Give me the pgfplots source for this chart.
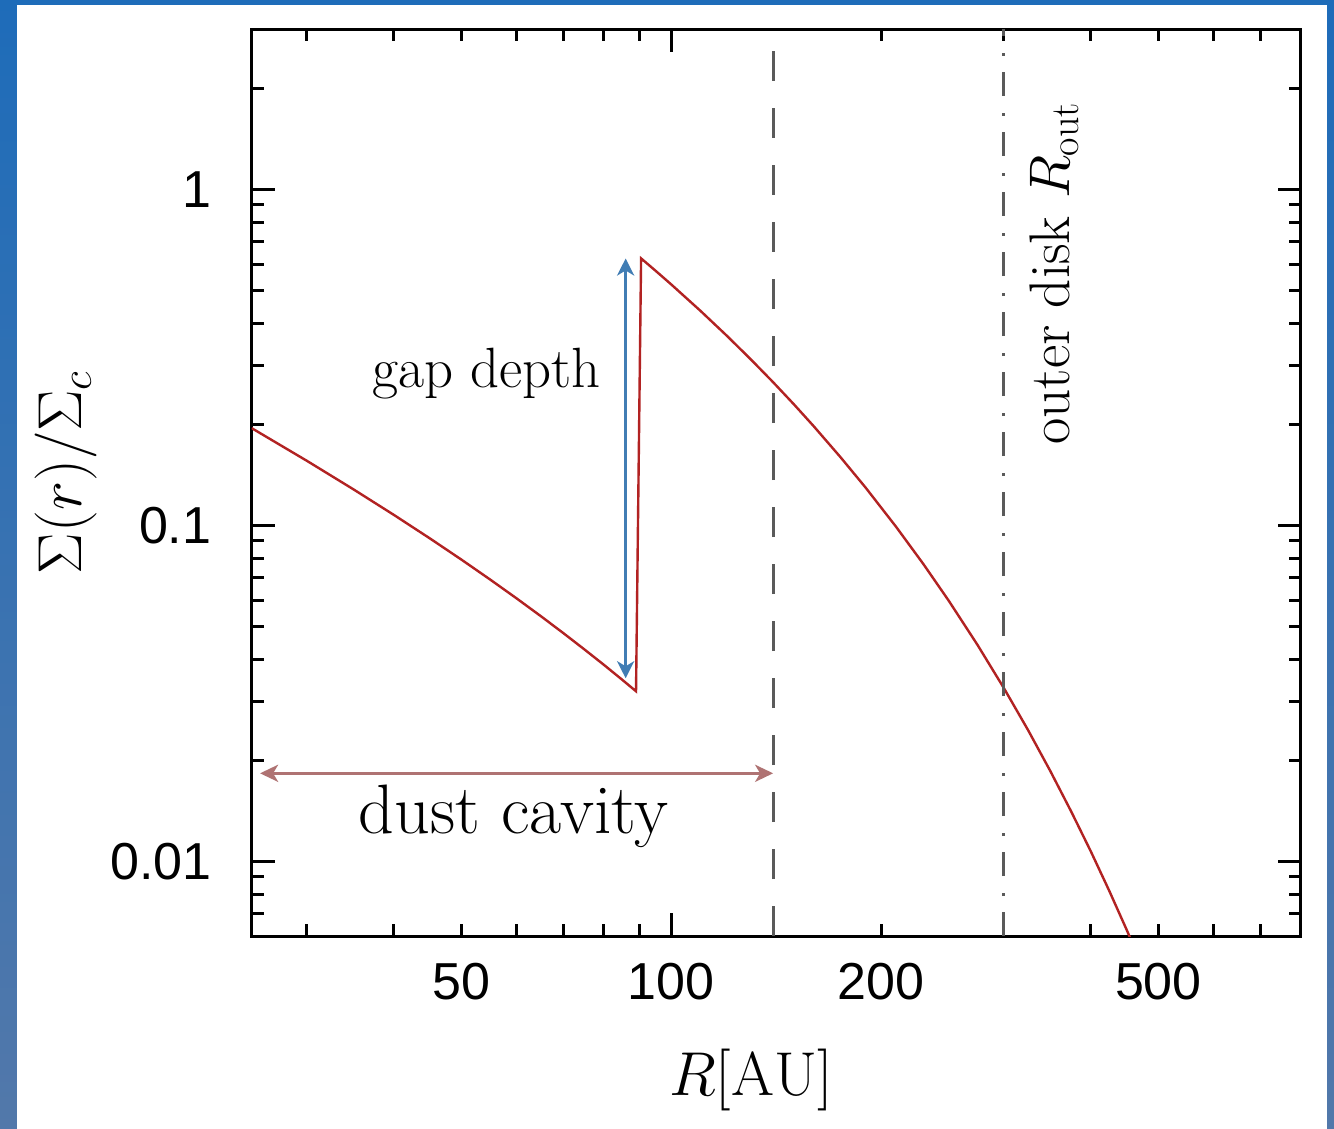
\RequirePackage{fix-cm}
\documentclass[border=0pt]{standalone}
\usepackage{fontspec}
\usepackage{pgfplots}
\pgfplotsset{compat=1.18}
\usetikzlibrary{arrows.meta}
\newfontfamily\ticksans{Liberation Sans}
\definecolor{curvered}{RGB}{178,34,34}
\definecolor{arrowblue}{RGB}{65,125,180}
\definecolor{cavbrown}{RGB}{175,115,115}
\definecolor{frametop}{RGB}{30,108,185}
\definecolor{framebot}{RGB}{82,120,170}
\definecolor{linegray}{RGB}{90,90,90}
\begin{document}
\begin{tikzpicture}
\shade[top color=frametop, bottom color=framebot] (-125.85pt,-96.5pt) rectangle (541.15pt,468pt);
\fill[white] (-117.5pt,-96.5pt) rectangle (537.4pt,465.5pt);
\begin{axis}[
  at={(0pt,0pt)}, anchor=south west,
  scale only axis, width=524.5pt, height=453.4pt,
  xmode=log, ymode=log,
  xmin=25, xmax=800, ymin=0.006, ymax=3,
  axis line style={line width=1.5pt},
  tick style={black, line width=1.5pt},
  tick align=inside,
  major tick length=11.5pt, minor tick length=6pt,
  xtick={100}, xticklabels={100},
  minor xtick={30,40,60,70,80,90,300,400,600,700,800},
  extra x ticks={50,200,500}, extra x tick labels={50,200,500},
  extra x tick style={major tick length=6pt},
  ytick={0.01,0.1,1}, yticklabels={0.01,0.1,1},
  minor ytick={0.006,0.007,0.008,0.009,0.02,0.03,0.04,0.05,0.06,0.07,0.08,0.09,0.2,0.3,0.4,0.5,0.6,0.7,0.8,0.9,2,3},
  tick label style={font=\ticksans\fontsize{26}{26}\selectfont, inner sep=0pt},
  xticklabel style={yshift=-13.5pt},
  yticklabel style={xshift=-20pt},
  clip mode=individual,
]
\addplot[curvered, line width=1.2pt] coordinates {
(25,0.19487) (30,0.15576) (35,0.12807) (40,0.10748) (45,0.09164) (50,0.07911)
(55,0.06898) (60,0.06065) (65,0.05370) (70,0.04783) (75,0.04282) (80,0.03851)
(85,0.03476) (89,0.03211)
(90.5,0.6237) (95,0.5723) (100,0.5215) (110,0.4362) (120,0.3679) (130,0.3124)
(140,0.2669) (150,0.2292) (160,0.1977) (175,0.1595) (190,0.1297) (210,0.0993)
(230,0.07675) (250,0.05977) (275,0.04412) (300,0.03283) (325,0.02461) (350,0.01855)
(375,0.01406) (400,0.01070) (425,0.008178) (450,0.006271) (475,0.004824)
};
\addplot[linegray, line width=1.5pt, dash pattern=on 15pt off 13.5pt] coordinates {(140,0.006) (140,3)};
\addplot[linegray, line width=1.4pt, dash pattern=on 12pt off 8pt on 1.5pt off 8.5pt] coordinates {(300,0.006) (300,3)};
\addplot[arrowblue, line width=1.8pt, {Stealth[length=8.5pt,width=8.5pt,inset=2.5pt]}-{Stealth[length=8.5pt,width=8.5pt,inset=2.5pt]}] coordinates {(86,0.0351) (86,0.6233)};
\addplot[cavbrown, line width=1.5pt, {Stealth[length=9pt,width=8.5pt,inset=2.5pt]}-{Stealth[length=9pt,width=8.5pt,inset=2.5pt]}] coordinates {(25.7,0.0183) (140,0.0183)};
\node[anchor=base, font=\fontsize{28.4}{34}\selectfont] at (axis cs:54.35,0.2582) {gap depth};
\node[anchor=base, font=\fontsize{35}{42}\selectfont] at (axis cs:59.4,0.01209) {dust cavity};
\node[rotate=90, anchor=base, font=\fontsize{28.6}{34}\selectfont] at (axis cs:373,0.5626) {outer disk $R_{\mathrm{out}}$};
\node[rotate=90, anchor=base, font=\fontsize{31}{36}\selectfont] at (axis description cs:-0.1621,0.5112) {$\Sigma(r)/\Sigma_c$};
\node[anchor=base, font=\fontsize{31}{36}\selectfont] at (axis description cs:0.476,-0.1754) {$R[\mathrm{AU}]$};
\end{axis}
\pgfresetboundingbox
\path[use as bounding box] (-125.85pt,-96.5pt) rectangle (541.15pt,468pt);
\end{tikzpicture}
\end{document}
